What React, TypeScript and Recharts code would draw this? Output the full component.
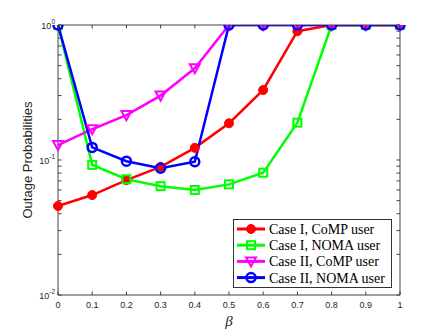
import React from "react";
import { Legend, Line, LineChart, XAxis, YAxis } from "recharts";

const betaValues = [0, 0.1, 0.2, 0.3, 0.4, 0.5, 0.6, 0.7, 0.8, 0.9, 1];
const caseICoMP = [0.0456, 0.055, 0.071, 0.089, 0.123, 0.187, 0.33, 0.9, 1, 1, 1];
const caseINoma = [1, 0.092, 0.072, 0.064, 0.06, 0.066, 0.0805, 0.189, 1, 1, 1];
const caseIICoMP = [0.129, 0.169, 0.215, 0.3, 0.478, 1, 1, 1, 1, 1, 1];
const caseIINoma = [1, 0.124, 0.098, 0.087, 0.097, 1, 1, 1, 1, 1, 1];

const xTicks = [0, 0.1, 0.2, 0.3, 0.4, 0.5, 0.6, 0.7, 0.8, 0.9, 1];
const majorYTicks = [0.01, 0.1, 1];
const yTicks = [
  0.01, 0.02, 0.03, 0.04, 0.05, 0.06, 0.07, 0.08, 0.09,
  0.1, 0.2, 0.3, 0.4, 0.5, 0.6, 0.7, 0.8, 0.9, 1,
];
const yExponents = ["-2", "-1", "0"];

const seriesInfo = [
  { key: "c1comp", name: "Case I, CoMP user", color: "#ff0000", marker: "dot" },
  { key: "c1noma", name: "Case I, NOMA user", color: "#00ff00", marker: "square" },
  { key: "c2comp", name: "Case II, CoMP user", color: "#ff00ff", marker: "triangle" },
  { key: "c2noma", name: "Case II, NOMA user", color: "#0000ff", marker: "circle" },
];

const data = betaValues.map((beta, i) => ({
  beta,
  c1comp: caseICoMP[i],
  c1noma: caseINoma[i],
  c2comp: caseIICoMP[i],
  c2noma: caseIINoma[i],
}));

const AXIS = "#404040";
const TICK_FONT = "'Liberation Sans', Arial, sans-serif";
const TICK_LEN = 3.5;

function Marker({ kind, cx, cy, color }: { kind: string; cx: number; cy: number; color: string }) {
  if (kind === "dot") {
    return <circle cx={cx} cy={cy} r={4.5} fill={color} stroke={color} strokeWidth={1} />;
  }
  if (kind === "square") {
    return <rect x={cx - 4} y={cy - 4} width={8} height={8} fill="none" stroke={color} strokeWidth={2} />;
  }
  if (kind === "triangle") {
    return (
      <polygon
        points={`${cx - 5},${cy - 4} ${cx + 5},${cy - 4} ${cx},${cy + 5}`}
        fill="none"
        stroke={color}
        strokeWidth={2}
      />
    );
  }
  return <circle cx={cx} cy={cy} r={4.5} fill="none" stroke={color} strokeWidth={2.5} />;
}

function makeDot(kind: string, color: string) {
  return (props: any) => {
    const { cx, cy, index } = props;
    if (cx == null || cy == null) return <g key={index} />;
    return (
      <g key={`${kind}-${index}`}>
        <Marker kind={kind} cx={cx} cy={cy} color={color} />
      </g>
    );
  };
}

function LeftTick(props: any) {
  const { x, y, payload } = props;
  const majorIdx = majorYTicks.indexOf(payload.value);
  return (
    <g>
      <line x1={x} x2={x + TICK_LEN} y1={y} y2={y} stroke={AXIS} strokeWidth={1} />
      {majorIdx >= 0 ? (
        <text x={x - 3} y={y + 4} textAnchor="end" fontSize={9} fontFamily={TICK_FONT} fill="#262626">
          <tspan>10</tspan>
          <tspan dy={-5} fontSize={6.5}>
            {yExponents[majorIdx]}
          </tspan>
        </text>
      ) : null}
    </g>
  );
}

function RightTick(props: any) {
  const { x, y } = props;
  return <line x1={x} x2={x - TICK_LEN} y1={y} y2={y} stroke={AXIS} strokeWidth={1} />;
}

function BottomTick(props: any) {
  const { x, y, payload } = props;
  return (
    <g>
      <line x1={x} x2={x} y1={y} y2={y - TICK_LEN} stroke={AXIS} strokeWidth={1} />
      <text x={x} y={y + 13} textAnchor="middle" fontSize={9} fontFamily={TICK_FONT} fill="#262626">
        {String(payload.value)}
      </text>
    </g>
  );
}

function TopTick(props: any) {
  const { x, y } = props;
  return <line x1={x} x2={x} y1={y} y2={y + TICK_LEN} stroke={AXIS} strokeWidth={1} />;
}

function LegendBox() {
  return (
    <div
      style={{
        width: 157,
        height: 67,
        border: "1px solid #333",
        background: "#fff",
        boxSizing: "content-box",
      }}
    >
      <svg width={157} height={67}>
        {seriesInfo.map((s, i) => {
          const cy = 9 + i * 16.2;
          return (
            <g key={s.key}>
              <line x1={3} x2={31} y1={cy} y2={cy} stroke={s.color} strokeWidth={3} />
              <Marker kind={s.marker} cx={17} cy={cy} color={s.color} />
              <text
                x={35}
                y={cy + 5}
                fontSize={14}
                fontFamily="'Liberation Serif', 'DejaVu Serif', serif"
                fill="#000"
              >
                {s.name}
              </text>
            </g>
          );
        })}
      </svg>
    </div>
  );
}

export default function App() {
  return (
    <div style={{ position: "absolute", left: 0, top: 0, width: 443, height: 332, background: "#fff" }}>
      <LineChart width={443} height={332} data={data} margin={{ top: 15, right: 33, bottom: 0, left: 0 }}>
        <XAxis
          dataKey="beta"
          type="number"
          domain={[0, 1]}
          ticks={xTicks}
          interval={0}
          height={37}
          tickSize={0}
          tickMargin={0}
          tickLine={false}
          stroke={AXIS}
          tick={<BottomTick />}
          label={({ viewBox }: any) => (
            <text
              x={viewBox.x + viewBox.width / 2}
              y={viewBox.y + 31}
              textAnchor="middle"
              fontSize={15}
              fontStyle="italic"
              fontFamily="'Liberation Serif', 'DejaVu Serif', serif"
              fill="#262626"
            >
              β
            </text>
          )}
        />
        <XAxis
          xAxisId="top"
          dataKey="beta"
          type="number"
          orientation="top"
          domain={[0, 1]}
          ticks={xTicks}
          interval={0}
          height={10}
          tickSize={0}
          tickMargin={0}
          tickLine={false}
          stroke={AXIS}
          tick={<TopTick />}
        />
        <YAxis
          scale="log"
          domain={[0.01, 1]}
          allowDataOverflow
          ticks={yTicks}
          interval={0}
          width={58}
          tickSize={0}
          tickMargin={0}
          tickLine={false}
          stroke={AXIS}
          tick={<LeftTick />}
          label={({ viewBox }: any) => {
            const cx = 27;
            const cy = viewBox.y + viewBox.height / 2;
            return (
              <text
                x={cx}
                y={cy}
                transform={`rotate(-90, ${cx}, ${cy})`}
                textAnchor="middle"
                dominantBaseline="central"
                fontSize={13}
                fontFamily={TICK_FONT}
                fill="#262626"
              >
                Outage Probabilities
              </text>
            );
          }}
        />
        <YAxis
          yAxisId="right"
          orientation="right"
          scale="log"
          domain={[0.01, 1]}
          allowDataOverflow
          ticks={yTicks}
          interval={0}
          width={10}
          tickSize={0}
          tickMargin={0}
          tickLine={false}
          stroke={AXIS}
          tick={<RightTick />}
        />
        {seriesInfo.map((s) => (
          <Line
            key={s.key}
            dataKey={s.key}
            name={s.name}
            stroke={s.color}
            strokeWidth={2.5}
            dot={makeDot(s.marker, s.color)}
            activeDot={false}
            isAnimationActive={false}
          />
        ))}
        <Legend
          layout="vertical"
          align="center"
          verticalAlign="middle"
          wrapperStyle={{ left: 233, top: 219, width: 159, height: 69 }}
          content={() => <LegendBox />}
        />
      </LineChart>
    </div>
  );
}
